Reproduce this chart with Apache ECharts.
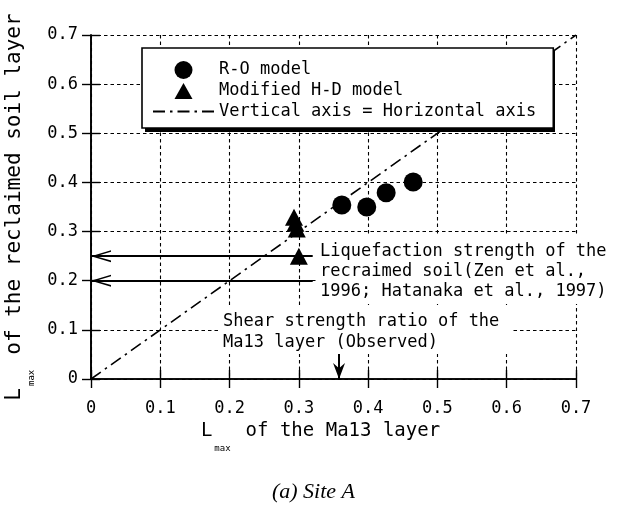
<!DOCTYPE html>
<html>
<head>
<meta charset="utf-8">
<script src="https://cdn.jsdelivr.net/npm/echarts@6/dist/echarts.min.js"></script>
<style>
html,body{margin:0;padding:0;background:#fff;}
#chart{width:627px;height:511px;}
</style>
</head>
<body>
<div id="chart"></div>
<script>
// ---- data ----
const roX = [0.362, 0.398, 0.426, 0.465];
const roY = [0.354, 0.350, 0.379, 0.401];
const hdX = [0.293, 0.295, 0.297, 0.300];
const hdY = [0.329, 0.317, 0.305, 0.250];
const diagX = [0, 0.7];
const diagY = [0, 0.7];
const liqStrength = [0.25, 0.20];      // horizontal arrows (y values)
const liqArrowFromX = 0.32;
const observedRatio = 0.358;           // vertical arrow (x value)
const observedArrowTopY = 0.053;
const axisMin = 0, axisMax = 0.7, axisStep = 0.1;
const legendNames = ['R-O model', 'Modified H-D model', 'Vertical axis = Horizontal axis'];
const liqText = ['Liquefaction strength of the', 'recraimed soil(Zen et al.,', '1996; Hatanaka et al., 1997)'];
const shearText = ['Shear strength ratio of the', 'Ma13 layer (Observed)'];
const caption = '(a) Site A';

const MONO = '"DejaVu Sans Mono", "Liberation Mono", monospace';
const zip = (a, b) => a.map((v, i) => [v, b[i]]);
const tickFmt = v => (v === 0 ? '0' : v.toFixed(1));
const openArrow = 'path://M6,0 L12,20 L10.4,20 L6,5 L1.6,20 L0,20 Z';
const solidArrow = 'path://M6,0 L12.5,16 L6.9,11.5 L6.9,20 L5.1,20 L5.1,11.5 L-0.5,16 Z';
const legendTriangle = 'path://M0,9 L0,9 Z M61,9 L61,9 Z M0,0 L0,0 Z M0,18 L0,18 Z M30.5,1 L39.5,17 L21.5,17 Z';

const chart = echarts.init(document.getElementById('chart'), null, {renderer: 'canvas'});

const baseAxis = {
  min: axisMin, max: axisMax, interval: axisStep,
  axisLine: {show: true, lineStyle: {color: '#000', width: 1.6}},
  axisTick: {show: true, inside: true, length: 9, lineStyle: {color: '#000', width: 1.4}},
};
const nameRich = (fs, H, endPad) => ({
  L: {fontFamily: MONO, fontSize: fs, color: '#000', lineHeight: H, verticalAlign: 'middle'},
  sub: {fontFamily: MONO, fontSize: 9, color: '#000', lineHeight: H, verticalAlign: 'bottom', padding: [0, 15, 0, 2]},
  t: {fontFamily: MONO, fontSize: fs, color: '#000', lineHeight: H, verticalAlign: 'middle', padding: [0, endPad, 0, 0]}
});

const option = {
  backgroundColor: '#fff',
  animation: false,
  grid: {left: 91, top: 35, right: 51, bottom: 132, containLabel: false, outerBoundsMode: 'none'},
  xAxis: [
    Object.assign({}, baseAxis, {
      type: 'value', position: 'bottom',
      axisLabel: {formatter: tickFmt, color: '#000', fontFamily: MONO, fontSize: 17, margin: 21},
      splitLine: {show: true, lineStyle: {color: '#000', width: 1.1, type: [3.5, 3]}},
      name: '{L|L}{sub|max}{t|of the Ma13 layer}',
      nameLocation: 'middle', nameGap: 29,
      nameTextStyle: {color: '#000', fontFamily: MONO, fontSize: 19, rich: nameRich(19, 44, 26)}
    }),
    Object.assign({}, baseAxis, {
      type: 'value', position: 'top',
      axisLabel: {show: false}, splitLine: {show: false}
    })
  ],
  yAxis: [
    Object.assign({}, baseAxis, {
      type: 'value', position: 'left',
      axisLabel: {formatter: tickFmt, color: '#000', fontFamily: MONO, fontSize: 17, margin: 13},
      splitLine: {show: true, lineStyle: {color: '#000', width: 1.1, type: [3.5, 3]}},
      name: '{L|L}{sub|max}{t|of the reclaimed soil layer}',
      nameLocation: 'middle', nameGap: 49, nameRotate: 90,
      nameTextStyle: {color: '#000', fontFamily: MONO, fontSize: 21, rich: nameRich(21, 44, 0)}
    }),
    Object.assign({}, baseAxis, {
      type: 'value', position: 'right',
      axisLabel: {show: false}, splitLine: {show: false}
    })
  ],
  legend: {
    orient: 'vertical',
    left: 142, top: 48, z: 4,
    padding: [13, 17, 8, 10],
    itemWidth: 61, itemHeight: 18, itemGap: 3,
    selectedMode: false,
    backgroundColor: '#fff',
    borderColor: '#000', borderWidth: 1.6, borderRadius: 0,
    textStyle: {color: '#000', fontFamily: MONO, fontSize: 17},
    data: [
      {name: legendNames[0]},
      {name: legendNames[1], icon: legendTriangle},
      {name: legendNames[2]}
    ]
  },
  series: [
    {
      name: legendNames[2], type: 'line', data: zip(diagX, diagY),
      symbol: 'none', z: 2,
      itemStyle: {color: '#000', opacity: 0},
      lineStyle: {color: '#000', width: 1.6, type: [12, 5, 2.5, 5]},
      markLine: {
        silent: true, animation: false,
        symbol: ['none', openArrow], symbolSize: [12, 20], symbolOffset: [0, [0, 10]],
        label: {show: false},
        lineStyle: {color: '#000', width: 2, type: 'solid', opacity: 1},
        itemStyle: {color: '#000', opacity: 1},
        data: liqStrength.map(v => [{coord: [liqArrowFromX, v]}, {coord: [0, v]}])
          .concat([[{coord: [observedRatio, observedArrowTopY], symbol: 'none'},
                    {coord: [observedRatio, 0], symbol: solidArrow}]])
      }
    },
    {
      name: legendNames[0], type: 'scatter', data: zip(roX, roY),
      symbol: 'circle', symbolSize: 19, z: 3,
      itemStyle: {color: '#000', opacity: 1}
    },
    {
      name: legendNames[1], type: 'scatter', data: zip(hdX, hdY),
      symbol: 'triangle', symbolSize: [18, 17], z: 3,
      itemStyle: {color: '#000', opacity: 1}
    }
  ],
  graphic: [
    {
      type: 'rect', z: 3,
      shape: {x: 145, y: 51, width: 410, height: 81},
      style: {fill: '#000'}
    },
    {
      type: 'text', left: 316, top: 234, z: 100,
      style: {
        text: liqText.join('\n'), fill: '#000', font: '17px ' + MONO,
        lineHeight: 20, backgroundColor: '#fff', padding: [8, 3, 2, 4]
      }
    },
    {
      type: 'text', left: 220, top: 308, z: 100,
      style: {
        text: shearText.join('\n'), fill: '#000', font: '17px ' + MONO,
        lineHeight: 21, backgroundColor: '#fff', padding: [3, 13, 1, 3]
      }
    },
    {
      type: 'text', left: 'center', top: 481, z: 100,
      style: {
        text: caption, fill: '#000', font: 'italic 22px "Liberation Serif", "DejaVu Serif", serif'
      }
    }
  ]
};
chart.setOption(option);
</script>
</body>
</html>
